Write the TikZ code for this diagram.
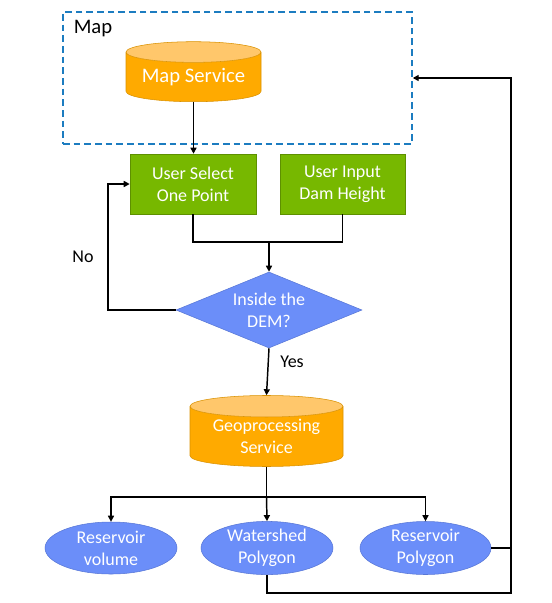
\documentclass[tikz,border=0pt]{standalone}
\usepackage{fontspec}
\setmainfont{Carlito}
\usetikzlibrary{shapes.geometric,arrows.meta}
\definecolor{mapblue}{HTML}{1C7CC0}
\definecolor{svcorange}{HTML}{FFAA00}
\definecolor{svctop}{HTML}{FFC76B}
\definecolor{svcline}{HTML}{D99100}
\definecolor{usergreen}{HTML}{77B800}
\definecolor{userline}{HTML}{5E9000}
\definecolor{resblue}{HTML}{6B8EF9}
\definecolor{resline}{HTML}{5877D6}
\tikzset{
  service/.style={cylinder, shape border rotate=90, aspect=0.2, draw=svcline, cylinder uses custom fill, cylinder body fill=svcorange, cylinder end fill=svctop, text=white, align=center, inner sep=0pt},
  userbox/.style={rectangle, draw=userline, fill=usergreen, text=white, align=center, minimum width=126*0.75pt, minimum height=60*0.75pt},
  result/.style={ellipse, draw=resline, fill=resblue, text=white, align=center, minimum width=132*0.75pt, minimum height=52*0.75pt, inner sep=0pt},
  flow/.style={line width=1.1pt, -{Triangle[length=4.5pt,width=4.5pt]}},
  plain/.style={line width=1.1pt}
}
\begin{document}
\begin{tikzpicture}[x=0.75pt, y=-0.75pt, font=\fontsize{13.5}{16.5}\selectfont]
    \useasboundingbox (0,0) rectangle (551,603);
    \node[draw=mapblue, dashed, line width=1.1pt, dash pattern=on 5pt off 3pt, minimum width=349*0.75pt, minimum height=132*0.75pt] (map) at (237.5,78) {};
    \node[font=\fontsize{15.5}{18}\selectfont] (maplabel) at (93,29) {Map};
    \node[service, minimum width=135*0.75pt, minimum height=60*0.75pt, font=\fontsize{15.5}{18}\selectfont] (mapsvc) at (193.5,77) {Map Service};
    \node[userbox] (select) at (193,184) {User Select\\One Point};
    \node[userbox, minimum width=125*0.75pt] (input) at (342.5,184) {User Input\\Dam Height};
    \node[diamond, draw=resline, fill=resblue, text=white, align=center, inner sep=0pt, aspect=2.45, minimum width=186*0.75pt, minimum height=76*0.75pt] (dem) at (269,310) {Inside the\\DEM?};
    \node[service, minimum width=153*0.75pt, minimum height=71*0.75pt] (geo) at (266.5,436.5) {Geoprocessing\\Service};
    \node[result] (volume) at (111,548) {Reservoir\\volume};
    \node[result] (shed) at (267,548) {Watershed\\Polygon};
    \node[result, minimum width=131*0.75pt] (respoly) at (425.5,548) {Reservoir\\Polygon};
    \node (no) at (83,257) {No};
    \node (yes) at (292,362) {Yes};
    \coordinate (join) at (269,242);
    \coordinate (nobend) at (108,310);
    \coordinate (split) at (266.5,497);
    \coordinate (back) at (511,593);
    \draw [flow] (mapsvc.south) -- (mapsvc.south |- select.north);
    \draw [plain] (select.south) |- (join);
    \draw [plain] (input.south) |- (join);
    \draw [flow] (join) -- (dem.north);
    \draw [flow] (dem.west) -- (nobend) |- (select.west);
    \draw [flow] (dem.south) -- (geo.north);
    \draw [plain] (geo.south) -- (split);
    \draw [flow] (split) -| (volume.north);
    \draw [flow] (split) -- (shed.north);
    \draw [flow] (split) -| (respoly.north);
    \draw [plain] (respoly.east) -- (respoly.east -| back);
    \draw [flow] (shed.south) |- (back) |- (map.east);
\end{tikzpicture}
\end{document}
